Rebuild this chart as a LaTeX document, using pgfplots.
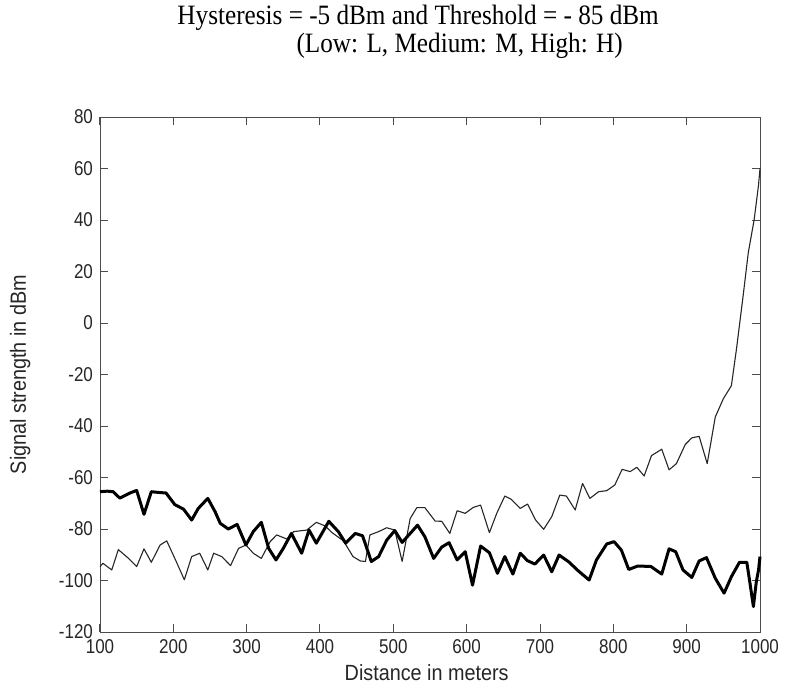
\documentclass[border=0pt]{standalone}
\usepackage{pgfplots}
\pgfplotsset{compat=1.18}
\usepackage{fontspec}
\setmainfont{Liberation Serif}
\newfontfamily\ticksf[FakeStretch=0.85]{Liberation Sans}
\newfontfamily\labelsf[FakeStretch=0.9]{Liberation Sans}

\begin{document}
\begin{tikzpicture}
\begin{axis}[
    width=330pt, height=257.5pt, scale only axis,
    xmin=100, xmax=1000, ymin=-120, ymax=80,
    xtick={100,200,...,1000}, ytick={-120,-100,...,80},
    tick align=inside, xtick pos=both, ytick pos=both,
    major tick length=4pt,
    axis line style={black!70},
    every tick/.style={black!70, line width=0.5pt},
    tick label style={font=\ticksf\fontsize{10}{11}\selectfont, black!85},
    label style={font=\labelsf\fontsize{11}{12}\selectfont, black!85},
    /pgf/number format/assume math mode=true,
    /pgf/number format/1000 sep={},
    scaled ticks=false,
    xlabel={Distance in meters},
    ylabel={Signal strength in dBm},
    x label style={at={(rel axis cs:0.495,-0.078)}, anchor=center},
    y label style={at={(rel axis cs:-0.121,0.5)}, anchor=center},
    clip=false,
]
% thin series
\addplot[black!85, line width=0.55pt, line join=round] coordinates {
(100,-94.6)(104,-93.3)(116,-95.9)(125,-88)(139,-91.4)(150,-94.6)(160,-87.7)
(170,-92.9)(182,-86.2)(191,-84.6)(203,-92)(215,-99.7)(225,-90.7)(236,-89.4)
(247,-95.9)(255,-89.4)(266,-90.7)(278,-94.2)(289,-87.5)(299,-86.2)(309,-89.4)
(320,-91.4)(332,-84.9)(341,-82.3)(355,-83.9)(364,-81)(382,-80.4)(395,-77.4)
(407,-78.8)(416,-81.3)(432,-84.6)(445,-90.7)(455,-92.4)(462,-92.6)(468,-82.3)
(480,-81)(491,-79.5)(502,-80.4)(512,-92.6)(523,-75.9)(532,-71.7)(543,-71.7)
(557,-76.9)(566,-77)(577,-81.7)(587,-72.9)(598,-73.9)(609,-71.6)(619,-70.7)
(631,-81.4)(641,-73.9)(652,-67.2)(661,-68.5)(673,-72)(683,-70.3)(694,-76.5)
(705,-80.1)(716,-75.2)(727,-66.8)(736,-67.2)(748,-72.6)(758,-62.3)(768,-68.1)
(780,-65.5)(791,-65.1)(802,-62.9)(812,-56.8)(823,-57.7)(832,-56)(842,-59.4)
(852,-51.5)(866,-49)(876,-57)(886,-54.6)(898,-47.2)(907,-44.6)(917,-44)
(928,-54.6)(939,-36.5)(950,-29.4)(961,-24.3)(968,-9.9)(977,10.6)(984,27.3)
(992,40.1)(998,53.6)(1000,60)
};
% thick series
\addplot[black, line width=1.5pt, line join=round] coordinates {
(100,-65.5)(110,-65.3)(118,-65.5)(127,-68)(141,-66)(150,-65)(160,-74.3)
(170,-65.5)(180,-65.8)(190,-66)(202,-70.5)(214,-72.3)(225,-76.5)(234,-72)
(247,-68.1)(257,-73.3)(264,-77.8)(275,-80)(287,-78.2)(299,-86.2)(309,-81)
(320,-77.4)(330,-87.5)(340,-92)(350,-87.5)(361,-81.7)(375,-89.4)(385,-80.4)
(395,-85.5)(412,-77)(425,-81)(435,-85.5)(448,-81.7)(458,-82.6)(470,-92.6)
(480,-90.7)(491,-84.3)(502,-80.6)(512,-85.2)(523,-81.7)(533,-78.5)(543,-83)
(555,-91.4)(566,-87)(576,-85.3)(587,-92)(598,-88.8)(608,-101.8)(619,-86.6)
(631,-89.2)(642,-97.2)(652,-90.7)(663,-97.5)(673,-89.4)(683,-92.3)(693,-93.6)
(705,-90.1)(716,-96.6)(726,-90.1)(739,-92.7)(752,-96.2)(767,-99.8)(777,-92)
(791,-85.8)(801,-84.9)(811,-88.2)(821,-95.7)(833,-94.4)(851,-94.5)(866,-97.5)
(876,-87.7)(885,-88.8)(895,-95.9)(907,-98.8)(917,-92.4)(927,-91.1)(939,-99.1)
(951,-104.9)(961,-98.5)(972,-92.9)(982,-92.9)(986,-100.4)(991,-110.1)
(995,-100.4)(998,-95.9)(1000,-90.7)
};
\node[font=\fontsize{14}{16}\selectfont\addfontfeatures{FakeStretch=0.9}, anchor=center]
  at (rel axis cs:0.482,1.192) {Hysteresis = -5 dBm and Threshold = - 85 dBm};
\node[font=\fontsize{14}{16}\selectfont\addfontfeatures{FakeStretch=0.9}, anchor=center]
  at (rel axis cs:0.545,1.138) {(Low: L, Medium: M, High: H)};
\coordinate (bl) at (rel axis cs:-0.1515,-0.1087);
\coordinate (tr) at (rel axis cs:1.0409,1.2272);
\end{axis}
\pgfresetboundingbox
\path[use as bounding box] (bl) rectangle (tr);
\end{tikzpicture}
\end{document}
